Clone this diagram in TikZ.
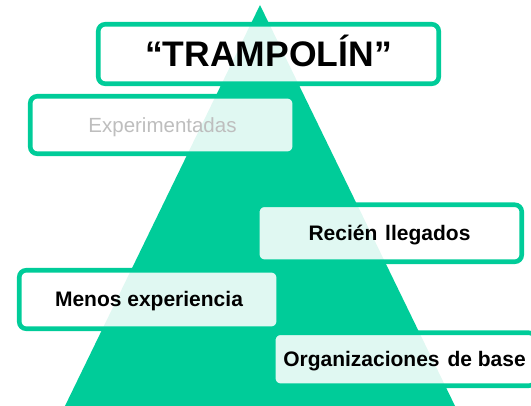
\documentclass[tikz,border=0pt]{standalone}
\usepackage{fontspec}
\setmainfont{Liberation Sans}
\definecolor{tgreen}{RGB}{0,204,153}
\definecolor{tgray}{RGB}{190,190,190}
\tikzset{
  lbl/.style={draw=tgreen, line width=4.6pt, fill=white, fill opacity=0.88, text opacity=1,
    rounded corners=7pt, inner sep=0pt, text depth=0pt, align=center},
  small/.style={font=\fontsize{21}{24}\selectfont\bfseries, text height=15pt},
}
\begin{document}
\begin{tikzpicture}[x=1pt,y=-1pt]
\useasboundingbox (0,0) rectangle (531,406);
\clip (0,0) rectangle (531,406);
\fill[tgreen] (260,5) -- (456,408) -- (64,408) -- cycle;
\node[lbl, minimum width=340.5pt, minimum height=59.5pt, text height=25pt,
  font=\fontsize{35.5}{40}\selectfont\bfseries] (tramp) at (268.5,54) {“TRAMPOLÍN”};
\node[lbl, minimum width=264.5pt, minimum height=57.5pt, text height=14.7pt,
  font=\fontsize{20.5}{24}\selectfont, text=tgray] (exp) at (162.5,125) {Experimentadas};
\node[lbl, small, minimum width=264.5pt, minimum height=57pt] (rec) at (389.5,233.25) {Recién\hspace{2pt} llegados};
\node[lbl, small, minimum width=259.5pt, minimum height=58.5pt] (men) at (149,299.5) {Menos experiencia};
\node[lbl, small, minimum width=262.5pt, minimum height=53pt] (org) at (404.5,359.25) {Organizaciones\hspace{2pt} de base};
\end{tikzpicture}
\end{document}
